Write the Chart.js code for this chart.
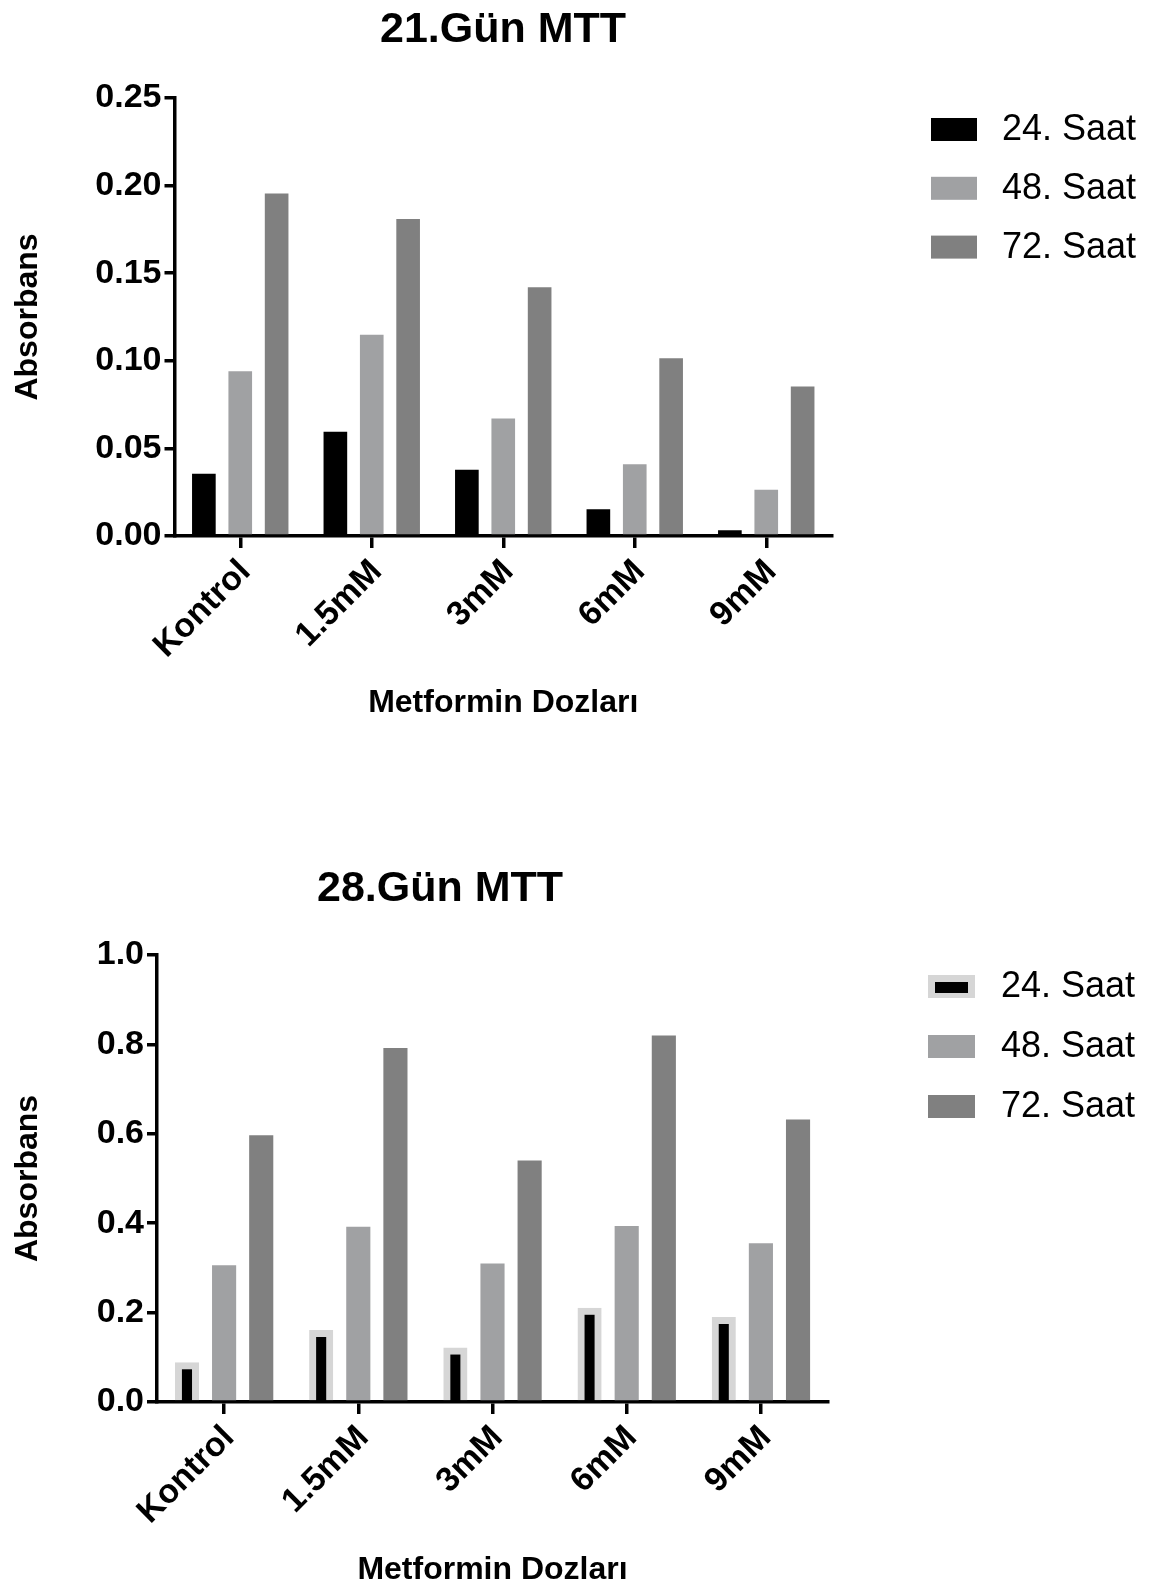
<!DOCTYPE html>
<html><head><meta charset="utf-8">
<script src="https://cdn.jsdelivr.net/npm/chart.js@4.4.1/dist/chart.umd.min.js"></script>
<style>
html,body{margin:0;padding:0;background:#fff;}
#wrap{position:relative;width:1152px;height:1589px;overflow:hidden;background:#fff;}
.c{position:absolute;left:0;}
</style></head><body>
<div id="wrap">
<div class="c" style="top:0"><canvas id="c1" width="1152" height="790"></canvas></div>
<div class="c" style="top:790px"><canvas id="c2" width="1152" height="799"></canvas></div>
</div>
<script>
// ---- data ----
const categories = ['Kontrol', '1.5mM', '3mM', '6mM', '9mM'];
const seriesLabels = ['24. Saat', '48. Saat', '72. Saat'];
const chartTitles = ['21.Gün MTT', '28.Gün MTT'];
const xAxisTitle = 'Metformin Dozları';
const yAxisTitle = 'Absorbans';
const day21_24h = [0.0355, 0.0595, 0.0378, 0.0152, 0.0033];
const day21_48h = [0.0940, 0.1148, 0.0670, 0.0410, 0.0264];
const day21_72h = [0.1955, 0.1810, 0.1420, 0.1015, 0.0853];
const day28_24h = [0.089, 0.161, 0.122, 0.211, 0.190];
const day28_48h = [0.306, 0.392, 0.310, 0.394, 0.355];
const day28_72h = [0.597, 0.792, 0.540, 0.820, 0.632];
const day21Ticks = [0, 0.05, 0.10, 0.15, 0.20, 0.25];
const day28Ticks = [0, 0.2, 0.4, 0.6, 0.8, 1.0];

const FONT = '"Liberation Sans", Arial, Helvetica, sans-serif';
const C24 = '#000000', C48 = '#a0a1a3', C72 = '#808080', CBORDER = '#d6d6d6';

function decorPlugin(o) {
  return {
    id: 'decor',
    afterDraw(chart) {
      const ctx = chart.ctx;
      ctx.save();
      ctx.fillStyle = '#000';
      ctx.font = 'bold 43px ' + FONT;
      ctx.textAlign = 'center';
      ctx.textBaseline = 'middle';
      ctx.fillText(o.title, o.titleX, o.titleY);
      ctx.font = '36px ' + FONT;
      ctx.textAlign = 'left';
      chart.data.datasets.forEach((ds, i) => {
        const y = o.legendTop + i * o.legendStep;
        const bw = ds.borderWidth || 0;
        if (bw) {
          ctx.fillStyle = ds.borderColor;
          ctx.fillRect(o.boxX, y, o.boxW, o.boxH);
          ctx.fillStyle = ds.backgroundColor;
          ctx.fillRect(o.boxX + bw, y + bw, o.boxW - 2 * bw, o.boxH - 2 * bw + 2);
        } else {
          ctx.fillStyle = ds.backgroundColor;
          ctx.fillRect(o.boxX, y, o.boxW, o.boxH);
        }
        ctx.fillStyle = '#000';
        ctx.fillText(ds.label, o.textX, y + o.boxH / 2 + 1);
      });
      ctx.restore();
    }
  };
}

function makeChart(id, s24, s48, s72, ticks, digits, L) {
  const has24Border = L.border24 > 0;
  return new Chart(document.getElementById(id), {
    type: 'bar',
    data: {
      labels: categories,
      datasets: [
        { label: seriesLabels[0], data: s24, backgroundColor: C24,
          borderColor: has24Border ? CBORDER : C24, borderWidth: L.border24, borderSkipped: 'start' },
        { label: seriesLabels[1], data: s48, backgroundColor: C48, borderWidth: 0 },
        { label: seriesLabels[2], data: s72, backgroundColor: C72, borderWidth: 0 }
      ]
    },
    options: {
      responsive: false,
      animation: false,
      devicePixelRatio: 1,
      layout: { padding: { left: 0, right: L.padRight, top: L.padTop, bottom: L.padBottom } },
      plugins: { legend: { display: false }, title: { display: false }, tooltip: { enabled: false } },
      datasets: { bar: { categoryPercentage: 0.83, barPercentage: 0.65 } },
      scales: {
        x: {
          offset: true,
          grid: { display: true, drawOnChartArea: false, drawTicks: true, tickLength: 12, offset: false, color: '#000', lineWidth: 3.5 },
          border: { display: true, color: '#000', width: 3.5 },
          ticks: { maxRotation: 45, minRotation: 45, color: '#000', padding: 4, labelOffset: 5, font: { family: FONT, size: 34, weight: 'bold' } },
          title: { display: true, text: xAxisTitle, color: '#000', padding: 0, font: { family: FONT, size: 32, weight: 'bold' } },
          afterFit(s) { s.height = L.xHeight; }
        },
        y: {
          min: ticks[0], max: ticks[ticks.length - 1],
          afterBuildTicks(s) { s.ticks = ticks.map(v => ({ value: v })); },
          grid: { display: true, drawOnChartArea: false, drawTicks: true, tickLength: 10, color: '#000', lineWidth: 3.5 },
          border: { display: true, color: '#000', width: 3.5 },
          ticks: { color: '#000', padding: 3, font: { family: FONT, size: 34, weight: 'bold' },
                   callback: v => Number(v).toFixed(digits) },
          title: { display: true, text: yAxisTitle, color: '#000', padding: { top: 8.8, bottom: 0 }, font: { family: FONT, size: 32, weight: 'bold' } },
          afterFit(s) { s.width = L.yWidth; }
        }
      }
    },
    plugins: [decorPlugin(L.decor)]
  });
}

makeChart('c1', day21_24h, day21_48h, day21_72h, day21Ticks, 2, {
  border24: 0, padRight: 320, padTop: 98, padBottom: 68, xHeight: 186, yWidth: 174.5,
  decor: { title: chartTitles[0], titleX: 503, titleY: 30, boxX: 931, boxW: 46, boxH: 23,
           legendTop: 118, legendStep: 58.8, textX: 1002 }
});
makeChart('c2', day28_24h, day28_48h, day28_72h, day28Ticks, 1, {
  border24: 7, padRight: 324, padTop: 165, padBottom: 0, xHeight: 187, yWidth: 157,
  decor: { title: chartTitles[1], titleX: 440, titleY: 99, boxX: 928, boxW: 47, boxH: 23,
           legendTop: 185, legendStep: 60, textX: 1001 }
});
</script>
</body></html>
